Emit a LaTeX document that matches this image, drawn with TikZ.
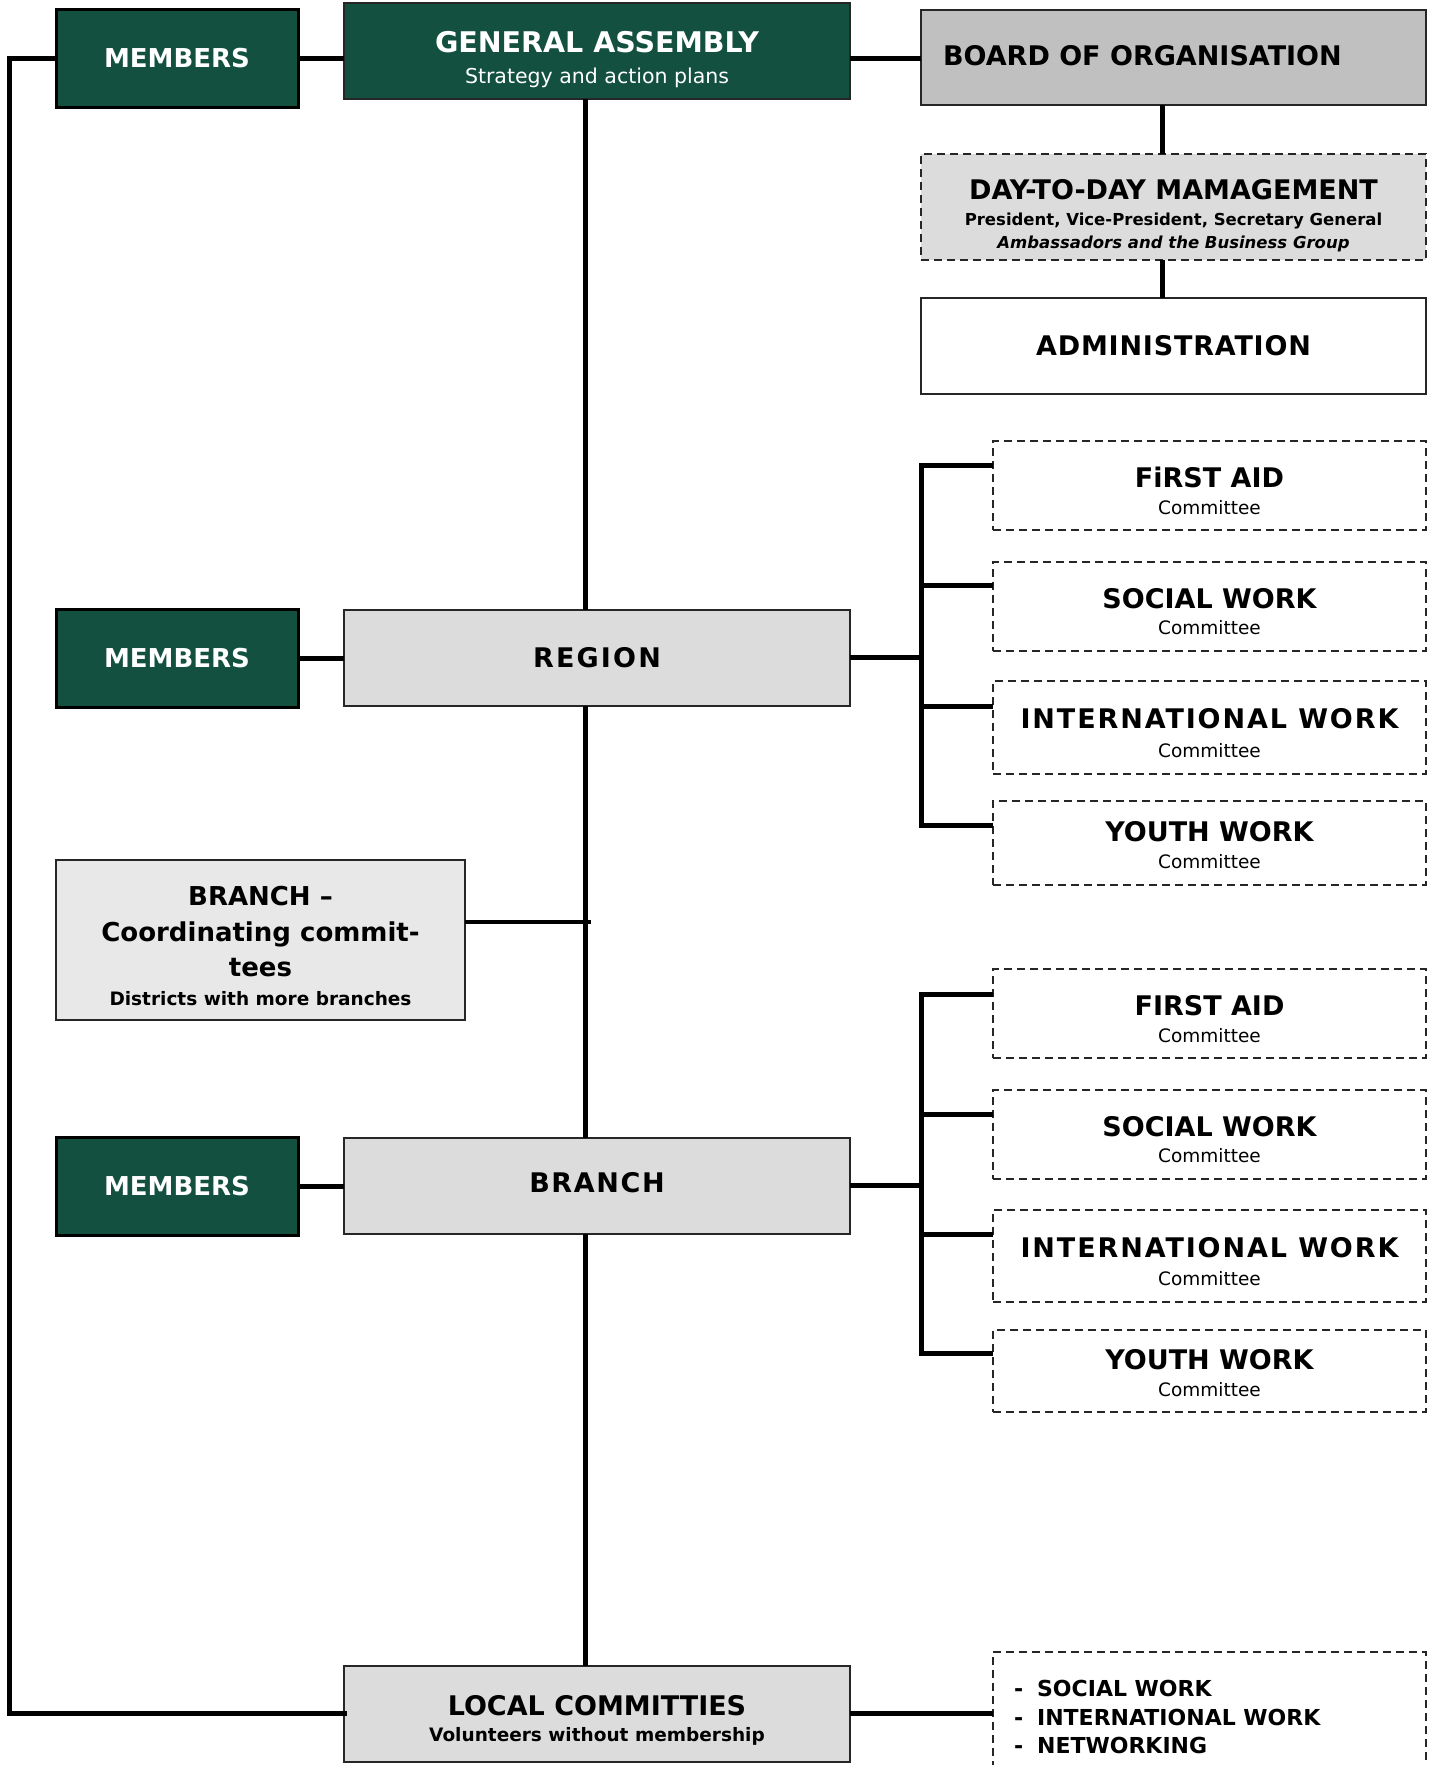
\documentclass[tikz,border=0pt]{standalone}
\usepackage{fontspec}
\setmainfont{DejaVu Sans}
\definecolor{dgreen}{HTML}{13503F}
\definecolor{boardgray}{HTML}{C0C0C0}
\definecolor{boxgray}{HTML}{DCDCDC}
\definecolor{lightgray}{HTML}{E8E8E8}
\newcommand\lsp[2]{{\addfontfeatures{LetterSpace=#1}#2}}
\begin{document}
\begin{tikzpicture}[x=1pt,y=-1pt,
  every node/.style={inner sep=0pt, outer sep=0pt, align=center},
  memberbox/.style={draw=black, line width=3pt, fill=dgreen, text=white, minimum width=242, minimum height=98,
     font=\bfseries\fontsize{26}{30}\selectfont},
  greybox/.style={draw=black!85, line width=1.5pt, fill=boxgray, minimum width=506, minimum height=96},
  rightbox/.style={draw=black!85, line width=1.5pt, minimum width=505},
  combox/.style={draw=black!85, line width=1.6pt, dash pattern=on 8pt off 5pt, minimum width=433},
  comtitle/.style={font=\bfseries\fontsize{27}{30}\selectfont},
  comsub/.style={font=\fontsize{18.5}{22}\selectfont},
  conn/.style={line width=5pt},
  thinconn/.style={line width=3.5pt},
  htitle/.style={font=\bfseries\fontsize{27}{30}\selectfont}
]
\useasboundingbox (0,0) rectangle (1434,1765);
\fill[white] (0,0) rectangle (1434,1765);

% top row
\node[memberbox] (mem1) at (177,58) {MEMBERS};
\node[draw=black!85, line width=1.5pt, fill=dgreen, text=white, minimum width=506, minimum height=96] (ga) at (597,51) {};
\node[text=white, font=\bfseries\fontsize{28.5}{30}\selectfont] (gat) at (597,42) {GENERAL ASSEMBLY};
\node[text=white, font=\fontsize{20.5}{24}\selectfont] (gas) at (597,78) {Strategy and action plans};
\node[rightbox, fill=boardgray, minimum height=95] (board) at (1173.5,57.5) {};
\node[htitle, anchor=west] (boardt) at (943,56) {BOARD OF ORGANISATION};

\node[rightbox, fill=boxgray, dash pattern=on 8pt off 5pt, minimum height=106] (dtd) at (1173.5,207) {};
\node[htitle] (dtdt) at (1173.5,190) {DAY-TO-DAY MAMAGEMENT};
\node[font=\bfseries\fontsize{16.5}{20}\selectfont] (dtd2) at (1173.5,221) {President, Vice-President, Secretary General};
\node[font=\bfseries\itshape\fontsize{16.5}{20}\selectfont] (dtd3) at (1173.5,243.5) {Ambassadors and the Business Group};

\node[rightbox, fill=white, minimum height=96, htitle] (admin) at (1173.5,346) {\lsp{3}{ADMINISTRATION}};

% region row
\node[memberbox] (mem2) at (177,658) {MEMBERS};
\node[greybox, htitle] (region) at (597,658) {\lsp{8}{REGION}};

\node[combox, minimum height=89] (fa1) at (1209.5,485.5) {};
\node[combox, minimum height=89] (sw1) at (1209.5,606.5) {};
\node[combox, minimum height=93] (iw1) at (1209.5,727.5) {};
\node[combox, minimum height=84] (yw1) at (1209.5,843) {};
\node[comtitle] (fa1t) at (1209.5,477) {FiRST AID};
\node[comsub]   (fa1s) at (1209.5,508) {Committee};
\node[comtitle] (sw1t) at (1209.5,599) {SOCIAL WORK};
\node[comsub]   (sw1s) at (1209.5,628) {Committee};
\node[comtitle] (iw1t) at (1209.5,719) {\lsp{7}{INTERNATIONAL WORK}};
\node[comsub]   (iw1s) at (1209.5,751) {Committee};
\node[comtitle] (yw1t) at (1209.5,832) {YOUTH WORK};
\node[comsub]   (yw1s) at (1209.5,862) {Committee};

% coordinating
\node[draw=black!85, line width=1.5pt, fill=lightgray, minimum width=409, minimum height=160] (coord) at (260.5,940) {};
\node[font=\bfseries\fontsize{26}{35.5}\selectfont] (coordt) at (260.5,932) {BRANCH –\\Coordinating commit-\\tees};
\node[font=\bfseries\fontsize{18.5}{22}\selectfont] (coords) at (260.5,999) {Districts with more branches};

% branch row
\node[memberbox] (mem3) at (177,1186) {MEMBERS};
\node[greybox] (branch) at (597,1186) {};
\node[htitle] (brancht) at (597,1183) {\lsp{6}{BRANCH}};

\node[combox, minimum height=89] (fa2) at (1209.5,1013.5) {};
\node[combox, minimum height=89] (sw2) at (1209.5,1134.5) {};
\node[combox, minimum height=92] (iw2) at (1209.5,1256) {};
\node[combox, minimum height=82] (yw2) at (1209.5,1371) {};
\node[comtitle] (fa2t) at (1209.5,1006) {FIRST AID};
\node[comsub]   (fa2s) at (1209.5,1036) {Committee};
\node[comtitle] (sw2t) at (1209.5,1127) {SOCIAL WORK};
\node[comsub]   (sw2s) at (1209.5,1156) {Committee};
\node[comtitle] (iw2t) at (1209.5,1248) {\lsp{7}{INTERNATIONAL WORK}};
\node[comsub]   (iw2s) at (1209.5,1279) {Committee};
\node[comtitle] (yw2t) at (1209.5,1360) {YOUTH WORK};
\node[comsub]   (yw2s) at (1209.5,1390) {Committee};

% local committees
\node[greybox] (local) at (597,1714) {};
\node[htitle] (localt) at (597,1706) {LOCAL COMMITTIES};
\node[font=\bfseries\fontsize{18.5}{22}\selectfont] (locals) at (597,1736) {Volunteers without membership};

\node[draw=black!85, line width=1.6pt, dash pattern=on 8pt off 5pt, minimum width=433, minimum height=130] (net) at (1209.5,1717) {};
\node[anchor=west, font=\bfseries\fontsize{22}{28.5}\selectfont, align=left] (nett) at (1014,1717)
  {-\hspace{14pt}SOCIAL WORK\\-\hspace{14pt}INTERNATIONAL WORK\\-\hspace{14pt}NETWORKING};

% coordinates
\coordinate (lt) at (9,58);
\coordinate (lb) at (9,1713);
\coordinate (cx) at (591,922);
\coordinate (b1) at (921,657);
\coordinate (b2) at (921,1185);

% connectors
\draw[conn] (lt) -- (mem1.west |- lt);
\draw[conn, line cap=rect] (lt) -- (lb) -- (local.west |- lb);
\draw[conn] (mem1.east |- lt) -- (ga.west |- lt);
\draw[conn] (ga.east |- lt) -- (board.west |- lt);
\draw[conn] (1162,105) -- (dtd.north -| 1162,0);
\draw[conn] (dtd.south -| 1162,0) -- (admin.north -| 1162,0);
\draw[conn] (ga.south -| 585,0) -- (region.north -| 585,0);
\draw[conn] (region.south -| 585,0) -- (branch.north -| 585,0);
\draw[conn] (branch.south -| 585,0) -- (local.north -| 585,0);
\draw[conn] (mem2.east) -- (region.west);
\draw[conn] (mem3.east) -- (branch.west);
\draw[thinconn] (coord.east |- cx) -- (cx);
\draw[conn] (local.east |- lb) -- (net.west |- lb);

\draw[conn] (region.east |- b1) -- (b1);
\draw[conn, line cap=rect] (921,465) -- (921,825);
\draw[conn] (921,465) -- (fa1.west |- 0,465);
\draw[conn] (921,585) -- (sw1.west |- 0,585);
\draw[conn] (921,706) -- (iw1.west |- 0,706);
\draw[conn] (921,825) -- (yw1.west |- 0,825);

\draw[conn] (branch.east |- b2) -- (b2);
\draw[conn, line cap=rect] (921,994) -- (921,1353);
\draw[conn] (921,994) -- (fa2.west |- 0,994);
\draw[conn] (921,1114) -- (sw2.west |- 0,1114);
\draw[conn] (921,1234) -- (iw2.west |- 0,1234);
\draw[conn] (921,1353) -- (yw2.west |- 0,1353);
\end{tikzpicture}
\end{document}
